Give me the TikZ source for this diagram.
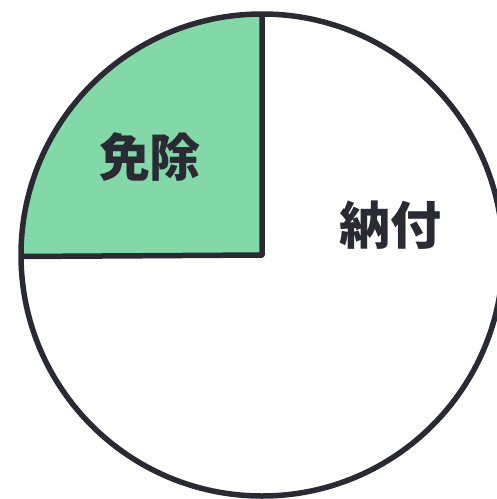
\documentclass[tikz,border=0pt]{standalone}
\usepackage{fontspec}
\newfontfamily\cjk{Noto Sans CJK JP}
\definecolor{ink}{HTML}{2A2A35}
\definecolor{mint}{HTML}{82D8A7}
\begin{document}
\begin{tikzpicture}[x=1pt,y=-1pt,
  outline/.style={draw=ink,line width=5.5pt,line join=round},
  lbl/.style={text=ink,font=\cjk\bfseries\fontsize{51}{51}\selectfont,inner sep=0pt}]
\useasboundingbox (0,0) rectangle (497,499);
\coordinate (c) at (262,255);
\fill[white] (c) circle[radius=241];
\coordinate (top) at (262,14);
\coordinate (left) at (21,256.5);
\fill[mint] (c) -- (top) arc[start angle=270,end angle=180,radius=241] -- cycle;
\draw[outline] (c) circle[radius=241];
\draw[outline] (left) -- (c) -- (top);
\node[lbl] (a) at (150,157) {免除};
\node[lbl] (b) at (390,225) {納付};
\end{tikzpicture}
\end{document}
